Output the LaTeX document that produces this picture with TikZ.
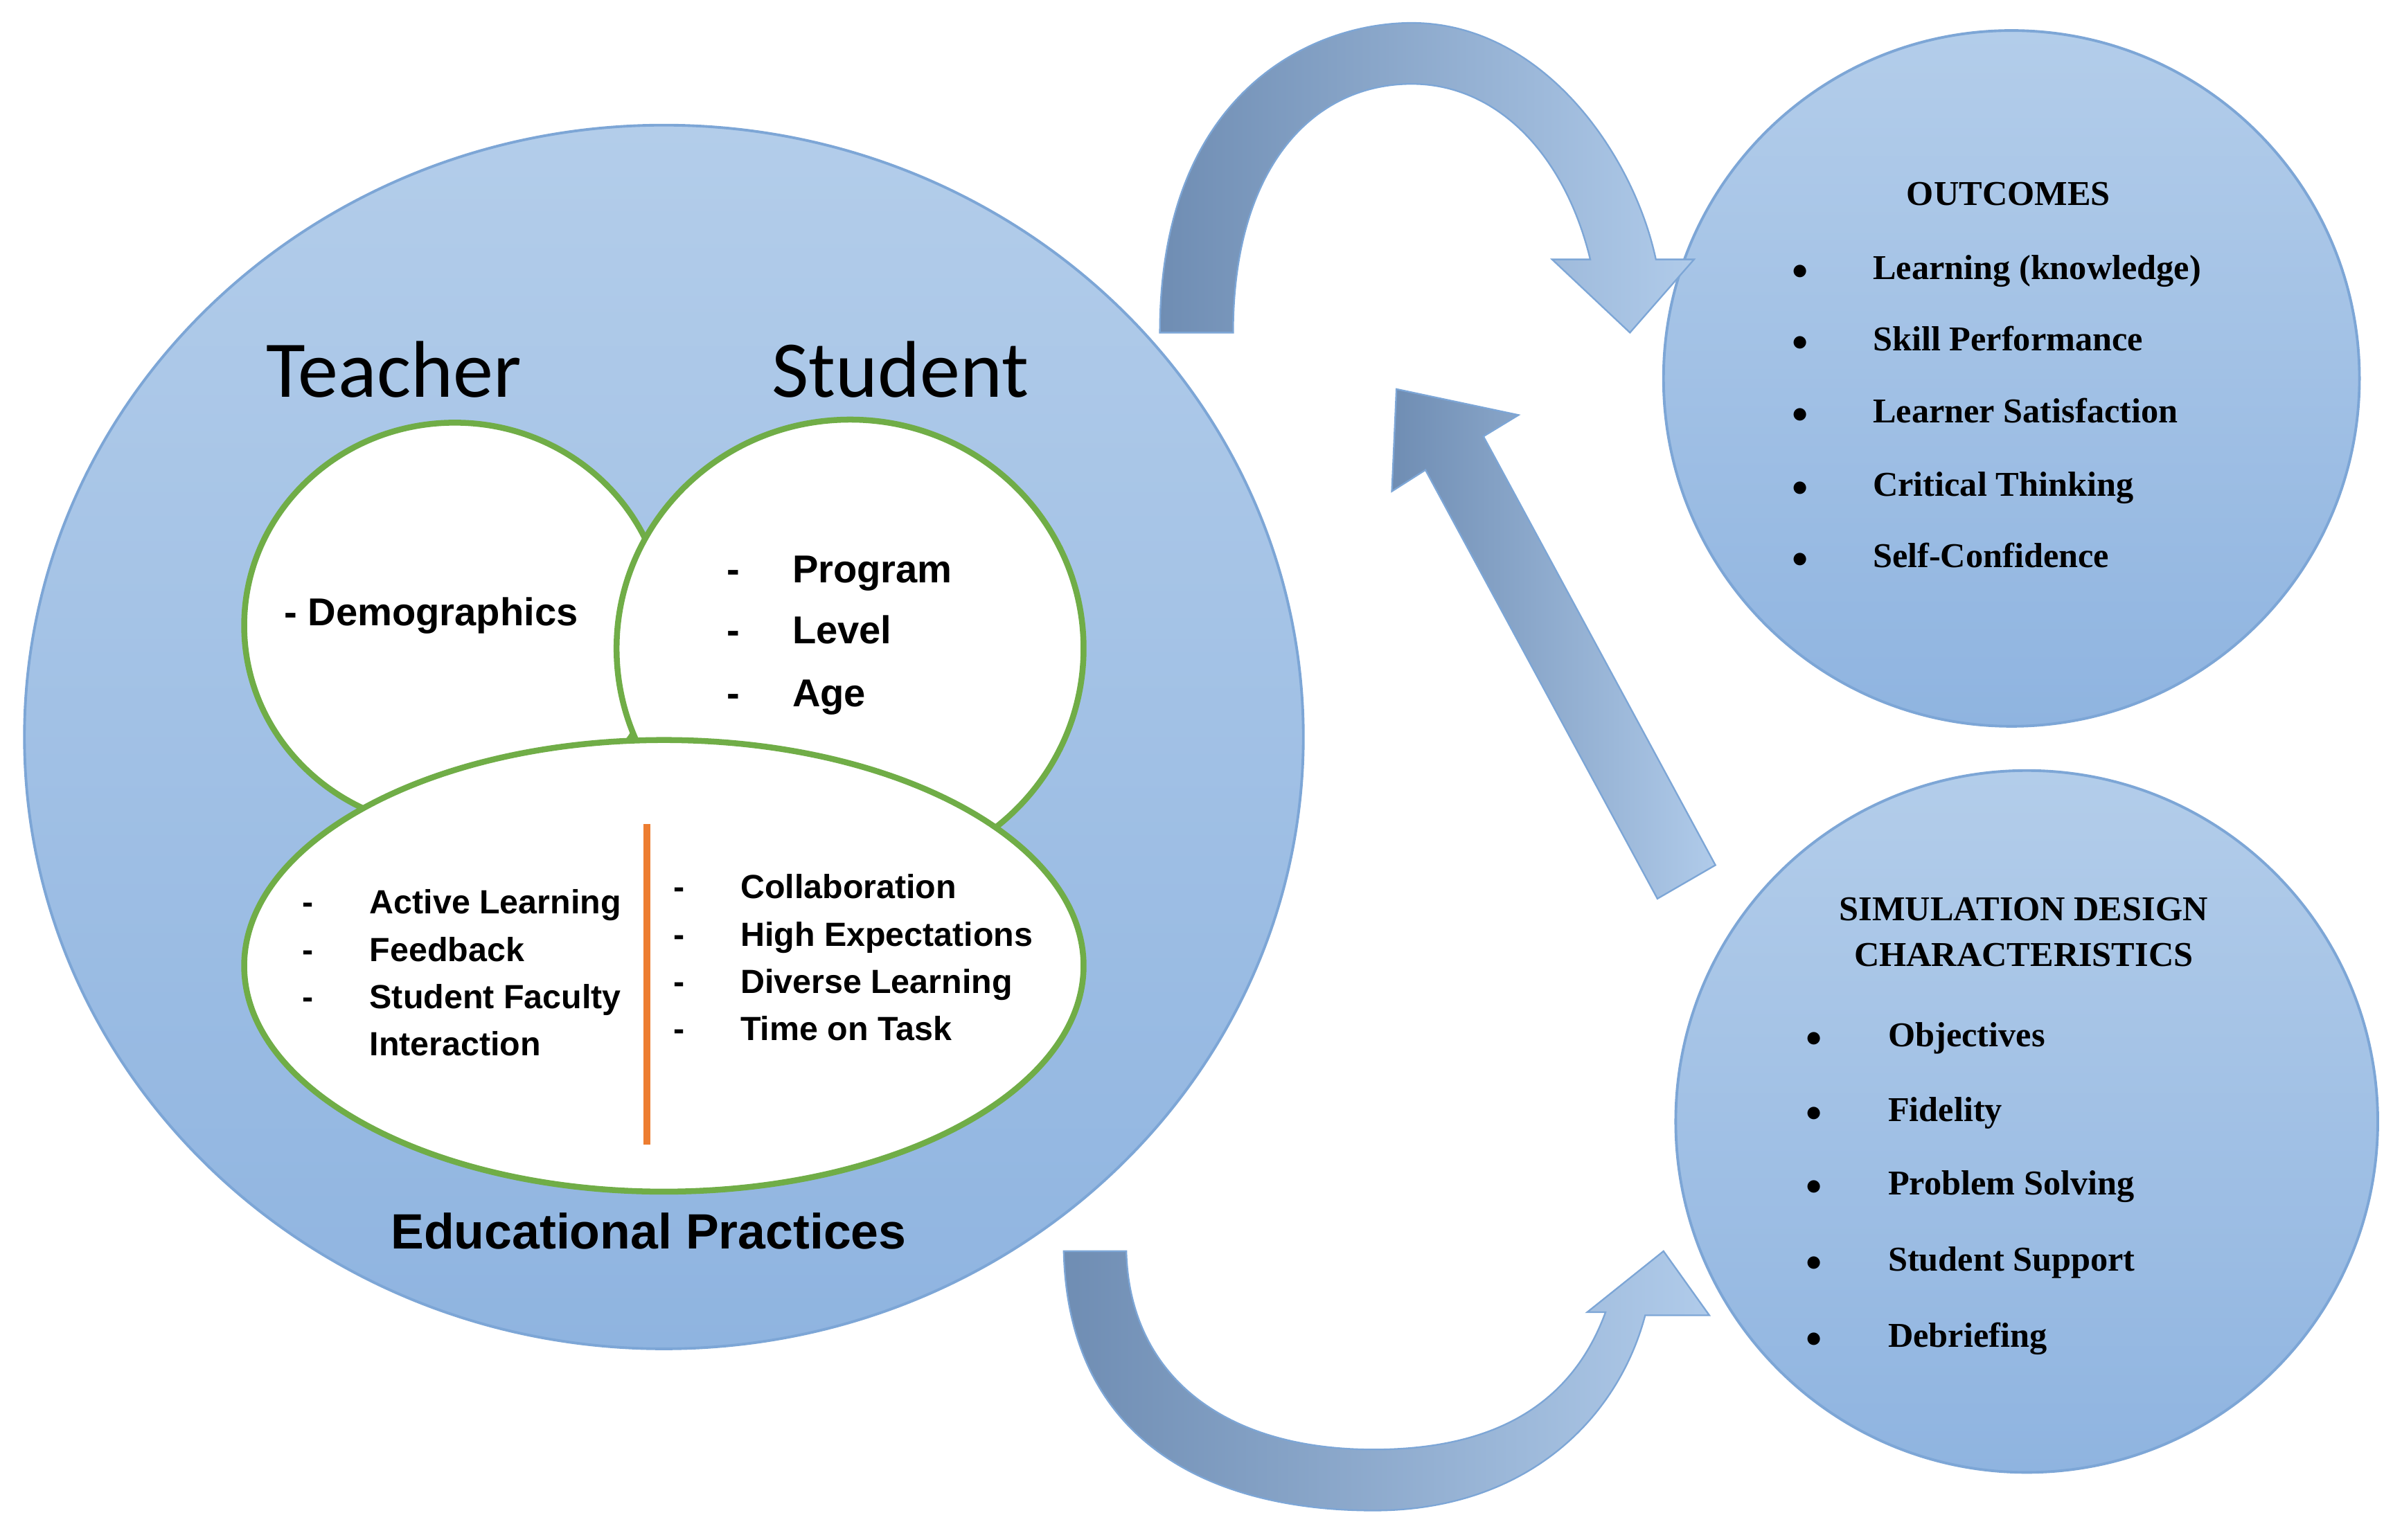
\documentclass[tikz,border=0pt]{standalone}
\usepackage{fontspec}
\setmainfont{Liberation Serif}
\newfontfamily\carl{Carlito}
\newfontfamily\ars{Liberation Sans}
\begin{document}
\begin{tikzpicture}[x=0.02cm,y=-0.02cm,
  blob/.style={draw=blueE,line width=1pt,top color=blueT,bottom color=blueB},
  inner/.style={draw=greenE,line width=2.2pt,fill=white},
  arr/.style={draw=blueE,line width=0.6pt,left color=arrL,right color=arrR},
  lst/.style={anchor=base west,font=\ars\bfseries\fontsize{12.5}{15}\selectfont},
  mid/.style={anchor=base west,font=\ars\bfseries\fontsize{14.5}{18}\selectfont},
  bul/.style={anchor=base west,font=\bfseries\fontsize{13}{15}\selectfont}]
\definecolor{blueE}{HTML}{7DA6D6}
\definecolor{blueT}{HTML}{B3CDEA}
\definecolor{blueB}{HTML}{8FB4E0}
\definecolor{greenE}{HTML}{70AD47}
\definecolor{arrL}{HTML}{6F8DB3}
\definecolor{arrR}{HTML}{B0CBEA}
\definecolor{orangeL}{HTML}{ED7D31}
\useasboundingbox (0,0) rectangle (1568,1009);
% big circle
\path[blob] (435,483) ellipse [x radius=419,y radius=401];
\path[inner] (298,410) ellipse [x radius=138,y radius=133];
\path[inner] (557,425) ellipse [x radius=153,y radius=150];
\path[inner] (435,633) ellipse [x radius=275,y radius=148];
\coordinate (o1) at (424,540); \coordinate (o2) at (424,750);
\draw[orangeL,line width=2.5pt] (o1) -- (o2);
% outcome circles
\path[blob] (1318,248) circle [radius=228];
\path[blob] (1328,735) circle [radius=230];
% arrows
\path[arr] (760,218) .. controls (760,60) and (860,15) .. (925,15)
  .. controls (1010,15) and (1070,100) .. (1085,170) -- (1110,170) -- (1068,218)
  -- (1017,170) -- (1042,170) .. controls (1025,100) and (980,55) .. (925,55)
  .. controls (860,55) and (808,110) .. (808,218) -- cycle;
\path[arr] (697,820) .. controls (700,950) and (800,990) .. (900,990)
  .. controls (1000,990) and (1060,930) .. (1078,862) -- (1120,862) -- (1090,820)
  -- (1040,860) -- (1052,860) .. controls (1030,920) and (980,950) .. (900,950)
  .. controls (800,950) and (740,900) .. (738,820) -- cycle;
\path[arr] (1086,589) -- (934,308) -- (912,322) -- (915,255) -- (995,272)
  -- (972,286) -- (1124,567) -- cycle;
% texts
\node[font=\carl\fontsize{30}{34}\selectfont] (t) at (258,242) {Teacher};
\node[font=\carl\fontsize{30}{34}\selectfont] (s) at (590,242) {Student};
\node[mid] (d) at (180,410) {- Demographics};
\foreach \w/\y in {Program/382,Level/422,Age/463}{
  \node[mid] at (470,\y) {-}; \node[mid] at (513,\y) {\w};}
\foreach \w/\y in {Active Learning/599,Feedback/630,Student Faculty/661}{
  \node[lst] at (192,\y) {-}; \node[lst] at (236,\y) {\w};}
\node[lst] at (236,692) {Interaction};
\foreach \w/\y in {Collaboration/589,High Expectations/620,Diverse Learning/651,Time on Task/682}{
  \node[lst] at (435,\y) {-}; \node[lst] at (479,\y) {\w};}
\node[font=\ars\bfseries\fontsize{18.5}{22}\selectfont] (ep) at (425,807) {Educational Practices};
\node[font=\bfseries\fontsize{13}{15}\selectfont] (oc) at (1316,127) {OUTCOMES};
\foreach \w/\y in {Learning (knowledge)/183,Skill Performance/230,Learner Satisfaction/277,Critical Thinking/325,Self-Confidence/372}{
  \node[bul] at (1168,\y) {$\bullet$}; \node[bul] at (1221,\y) {\w};}
\node[font=\bfseries\fontsize{13}{15}\selectfont,align=center] (sd) at (1326,611) {SIMULATION DESIGN\\[2pt]CHARACTERISTICS};
\foreach \w/\y in {Objectives/686,Fidelity/735,Problem Solving/783,Student Support/833,Debriefing/883}{
  \node[bul] at (1177,\y) {$\bullet$}; \node[bul] at (1231,\y) {\w};}
\end{tikzpicture}
\end{document}
